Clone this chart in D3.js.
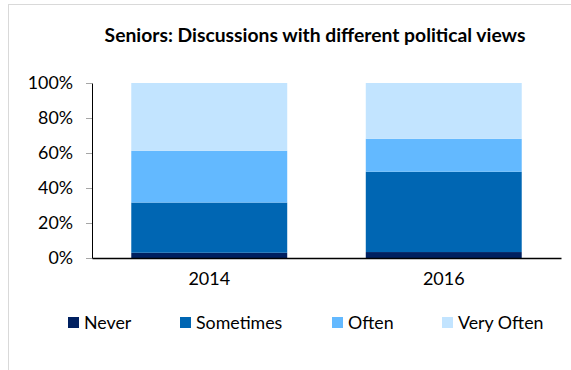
<!DOCTYPE html>
<html><head><meta charset="utf-8">
<script src="https://cdn.jsdelivr.net/npm/d3@7"></script>
<style>body{margin:0;background:#fff;} svg{display:block;font-family:Lato, "Open Sans", sans-serif;}</style>
</head><body>
<svg id="chart" width="571" height="370"></svg>
<script>
const categories = ["2014", "2016"];
const seriesNames = ["Never", "Sometimes", "Often", "Very Often"];
const never = [3.0, 3.4];
const sometimes = [28.7, 45.9];
const often = [29.6, 18.8];
const veryOften = [38.7, 31.9];
const colors = ["#002060", "#0066B3", "#63B9FF", "#C2E4FF"];
const yTicks = [0, 20, 40, 60, 80, 100];

const svg = d3.select("#chart");
svg.append("rect").attr("x", 8.5).attr("y", 4.5).attr("width", 600).attr("height", 400)
  .attr("fill", "#fff").attr("stroke", "#d9d9d9").attr("stroke-width", 1);

const x = d3.scaleBand().domain(categories).range([92, 561]).paddingInner(0.335).paddingOuter(0.1675);
const y = d3.scaleLinear().domain([0, 100]).range([258, 83]);

const rows = categories.map((c, i) => ({cat: c, Never: never[i], Sometimes: sometimes[i], Often: often[i], "Very Often": veryOften[i]}));
const stack = d3.stack().keys(seriesNames)(rows);

svg.append("text").attr("x", 315).attr("y", 42).attr("text-anchor", "middle")
  .attr("font-weight", "bold").attr("font-size", 19.3).attr("fill", "#000")
  .text("Seniors: Discussions with different political views");

stack.forEach((s, si) => {
  svg.append("g").selectAll("rect").data(s).join("rect")
    .attr("x", d => x(d.data.cat)).attr("width", x.bandwidth())
    .attr("y", d => y(d[1])).attr("height", d => y(d[0]) - y(d[1]))
    .attr("fill", colors[si]);
});

const yAxis = svg.append("g").attr("transform", "translate(92,0)")
  .call(d3.axisLeft(y).tickValues(yTicks).tickFormat(d => d + "%").tickSize(6).tickSizeOuter(0));
yAxis.select(".domain").attr("stroke", "#000");
yAxis.selectAll(".tick line").attr("stroke", "#a6a6a6");
yAxis.selectAll(".tick text").attr("font-size", 17.8).attr("font-family", "Lato, sans-serif").attr("fill", "#000").attr("x", -19);

const xAxis = svg.append("g").attr("transform", "translate(0,258)")
  .call(d3.axisBottom(x).tickSize(0).tickSizeOuter(0));
xAxis.select(".domain").attr("stroke", "#000").attr("stroke-width", 1.5);
xAxis.selectAll(".tick text").attr("font-size", 18).attr("font-family", "Lato, sans-serif").attr("fill", "#000")
  .attr("y", 27).attr("dy", 0);

const legendX = [68, 180, 332, 442];
const leg = svg.append("g");
seriesNames.forEach((n, i) => {
  leg.append("rect").attr("x", legendX[i]).attr("y", 317).attr("width", 11).attr("height", 11).attr("fill", colors[i]);
  leg.append("text").attr("x", legendX[i] + 16).attr("y", 328.5).attr("font-size", 17.8).attr("fill", "#000").text(n);
});
</script>
</body></html>
